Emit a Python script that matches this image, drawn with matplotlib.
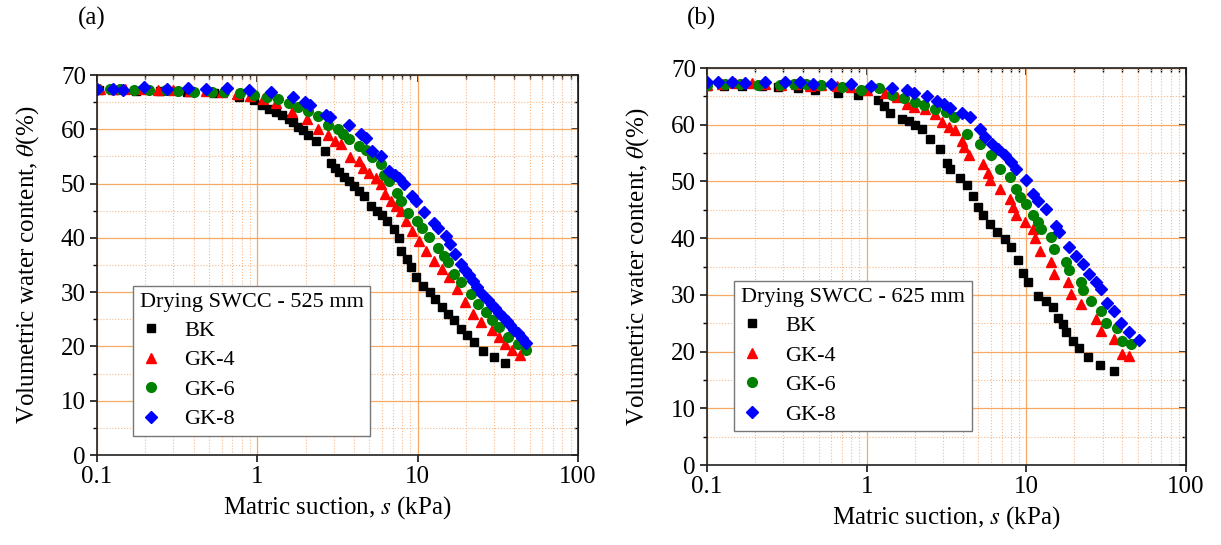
import numpy as np
import matplotlib
matplotlib.use('Agg')
import matplotlib.pyplot as plt
from matplotlib import ticker

plt.rcParams['font.family'] = ['Liberation Serif', 'DejaVu Serif']
plt.rcParams['mathtext.fontset'] = 'stix'

# ---- panel (a): 525 mm ----
s_bk_a = [0.103, 0.129, 0.175, 0.247, 0.365, 0.537, 0.77, 0.95, 1.07, 1.18, 1.30, 1.43, 1.57, 1.68, 1.80, 1.94,
          2.08, 2.31, 2.66, 2.89, 3.06, 3.25, 3.49, 3.75, 4.02, 4.32, 4.63, 5.14, 5.60, 6.00, 6.47, 7.10, 7.62,
          7.91, 8.63, 9.12, 9.73, 10.8, 12.0, 12.8, 14.1, 15.5, 16.8, 18.7, 20.3, 22.6, 25.6, 30.0, 35.3]
th_bk_a = [67.3, 67.3, 67.1, 67.1, 66.8, 66.6, 66.0, 65.4, 64.4, 63.8, 63.2, 62.6, 61.9, 61.3, 60.4, 59.8,
           58.9, 57.9, 56.0, 53.8, 52.9, 52.2, 51.3, 50.4, 49.5, 48.6, 47.8, 45.9, 45.0, 44.3, 43.1, 41.6, 40.0,
           37.6, 36.1, 34.6, 32.7, 31.2, 30.0, 28.8, 27.3, 26.0, 24.8, 23.3, 22.1, 20.9, 19.2, 18.0, 16.9]

s_gk4_a = [0.105, 0.125, 0.15, 0.19, 0.24, 0.30, 0.38, 0.48, 0.60, 0.75, 0.90, 1.08, 1.30, 1.64, 2.03, 2.39,
           2.76, 3.03, 3.33, 3.80, 4.32, 4.53, 4.97, 5.47, 5.92, 6.3, 6.8, 7.3, 7.85, 8.5, 9.2, 10.2, 11.3, 12.7,
           14.1, 15.6, 17.5, 19.8, 22.2, 25.0, 28.9, 32.1, 35.0, 39.0, 43.5]
th_gk4_a = [67.5, 67.5, 67.4, 67.4, 67.3, 67.2, 67.1, 67.0, 66.8, 66.5, 66.2, 65.6, 64.8, 63.1, 61.9, 60.1,
            58.9, 57.8, 57.2, 54.9, 54.1, 52.8, 51.9, 51.0, 50.0, 48.0, 46.8, 45.8, 45.0, 43.1, 41.3, 39.4, 37.6,
            35.8, 34.3, 32.7, 30.5, 28.1, 26.0, 24.5, 23.0, 21.8, 20.5, 19.3, 18.4]

s_gk6_a = [0.10, 0.12, 0.14, 0.17, 0.21, 0.27, 0.32, 0.40, 0.52, 0.62, 0.78, 0.95, 1.15, 1.35, 1.58, 1.80,
           2.08, 2.39, 2.76, 3.18, 3.41, 3.75, 4.32, 4.75, 5.21, 5.87, 6.15, 6.6, 7.4, 7.9, 8.7, 9.95, 10.6, 11.8,
           13.4, 14.6, 15.5, 16.8, 18.7, 21.4, 23.9, 26.6, 28.9, 32.1, 36.6, 42.0, 47.4]
th_gk6_a = [67.5, 67.5, 67.4, 67.3, 67.3, 67.2, 67.0, 66.9, 66.9, 66.8, 66.6, 66.3, 65.9, 65.6, 64.9, 64.1,
            63.4, 62.5, 60.8, 60.1, 59.2, 58.2, 56.9, 56.1, 54.9, 53.6, 51.6, 50.4, 48.3, 46.8, 44.6, 43.1, 41.9,
            40.1, 38.2, 36.7, 35.5, 33.4, 31.9, 29.7, 27.9, 26.4, 24.8, 23.6, 21.8, 20.5, 19.3]

s_gk8_a = [0.10, 0.125, 0.145, 0.195, 0.275, 0.37, 0.48, 0.65, 0.89, 1.21, 1.68, 1.98, 2.13, 2.69, 2.82, 3.75,
           4.42, 4.75, 5.21, 5.87, 6.6, 7.2, 7.6, 8.25, 9.2, 9.8, 10.9, 12.6, 13.3, 15.0, 15.8, 17.2, 18.7, 19.8,
           20.8, 22.0, 23.3, 25.2, 27.3, 29.0, 30.4, 32.0, 34.0, 36.0, 37.8, 40.0, 42.1, 44.5, 47.2]
th_gk8_a = [67.5, 67.5, 67.2, 67.7, 67.4, 67.6, 67.4, 67.6, 67.2, 66.9, 65.9, 65.1, 64.5, 62.6, 62.2, 60.8,
            59.2, 58.4, 56.0, 55.1, 52.3, 51.5, 51.0, 50.0, 47.8, 46.8, 44.7, 42.7, 41.9, 40.4, 38.9, 37.1, 35.2,
            34.0, 33.1, 32.0, 31.0, 29.7, 28.5, 27.6, 27.0, 26.2, 25.5, 24.6, 23.9, 23.1, 22.4, 21.5, 20.6]

# ---- panel (b): 625 mm ----
s_bk_b = [0.10, 0.127, 0.165, 0.220, 0.279, 0.372, 0.472, 0.659, 0.877, 1.17, 1.28, 1.41, 1.67, 1.84, 2.02,
          2.22, 2.51, 2.89, 3.18, 3.31, 3.85, 4.23, 4.66, 5.00, 5.38, 5.92, 6.51, 7.33, 8.07, 8.87, 9.53, 10.2,
          11.8, 13.3, 14.6, 15.7, 16.9, 17.6, 19.5, 21.5, 24.2, 28.8, 35.6]
th_bk_b = [66.8, 66.8, 66.9, 66.8, 66.7, 66.4, 66.1, 65.6, 65.3, 64.3, 63.3, 62.0, 61.0, 60.6, 59.9,
           59.2, 57.5, 55.8, 53.3, 52.2, 50.6, 49.3, 47.5, 45.5, 44.1, 42.5, 41.1, 39.9, 38.4, 36.2, 33.9, 32.2,
           29.8, 29.0, 27.8, 26.0, 24.9, 23.4, 21.8, 20.6, 19.0, 17.6, 16.5]

s_gk4_b = [0.10, 0.125, 0.15, 0.19, 0.23, 0.29, 0.36, 0.44, 0.52, 0.65, 0.80, 1.0, 1.3, 1.55, 1.80, 1.97,
           2.33, 2.69, 2.96, 3.26, 3.58, 3.94, 4.08, 4.40, 5.32, 5.78, 5.92, 6.83, 7.88, 8.26, 8.67, 9.77, 11.0,
           11.3, 12.1, 14.3, 15.0, 18.2, 19.0, 22.0, 27.2, 29.3, 35.4, 39.5, 43.8]
th_gk4_b = [67.0, 67.2, 67.3, 67.3, 67.2, 67.0, 67.1, 66.9, 67.0, 66.8, 66.6, 66.2, 65.6, 64.8, 63.7, 63.1,
            62.8, 61.9, 60.5, 59.6, 59.0, 57.2, 56.0, 54.7, 53.1, 51.4, 50.2, 48.7, 46.9, 45.5, 44.0, 42.8, 41.6,
            40.0, 37.8, 35.8, 33.7, 32.2, 30.2, 28.4, 25.8, 23.7, 22.2, 19.5, 19.2]

s_gk6_b = [0.10, 0.13, 0.161, 0.209, 0.286, 0.35, 0.419, 0.52, 0.70, 0.92, 1.20, 1.45, 1.71, 2.02, 2.28, 2.69,
           3.13, 3.50, 4.24, 5.13, 6.05, 6.82, 7.87, 8.66, 9.08, 10.0, 11.0, 11.8, 12.4, 14.3, 15.0, 17.7, 18.6,
           22.0, 22.5, 25.3, 29.3, 31.4, 37.1, 39.9, 45.0]
th_gk6_b = [67.0, 67.1, 67.1, 67.0, 67.0, 67.1, 67.1, 67.0, 66.7, 66.1, 66.4, 65.2, 64.7, 64.0, 63.5, 62.8,
            62.3, 61.3, 58.4, 56.6, 54.6, 52.2, 50.8, 48.7, 47.2, 46.1, 44.0, 42.8, 41.6, 40.2, 38.1, 35.8, 34.3,
            32.2, 30.8, 29.0, 27.2, 25.1, 24.2, 21.9, 21.4]

s_gk8_b = [0.10, 0.118, 0.143, 0.173, 0.231, 0.307, 0.380, 0.460, 0.598, 0.80, 1.06, 1.45, 1.80, 1.97, 2.39,
           2.76, 3.03, 3.33, 3.94, 4.44, 5.13, 5.51, 6.06, 6.66, 7.33, 8.07, 8.67, 10.0, 11.0, 11.8, 13.3, 15.4,
           16.0, 18.6, 20.5, 22.5, 24.8, 27.2, 29.3, 32.2, 35.4, 39.0, 43.9, 50.7]
th_gk8_b = [67.6, 67.5, 67.5, 67.4, 67.5, 67.6, 67.5, 67.2, 67.2, 67.1, 66.8, 66.5, 66.1, 65.6, 65.0,
            64.2, 63.7, 62.9, 62.1, 61.4, 59.3, 57.9, 56.6, 55.8, 54.6, 53.4, 52.2, 50.2, 47.8, 46.6, 45.2, 42.2,
            41.0, 38.4, 36.9, 35.4, 33.6, 32.2, 31.0, 28.6, 27.2, 25.1, 23.4, 22.0]

labels = ['BK', 'GK-4', 'GK-6', 'GK-8']
colors = ['black', 'red', 'green', 'blue']
markers = ['s', '^', 'o', 'D']
msizes = [6.2, 7.2, 7.0, 6.5]

W, H = 1221, 545
fig = plt.figure(figsize=(W / 100., H / 100.), dpi=100)

# axes boxes in pixels: left, top, right, bottom
boxes = [(97, 75, 578, 455), (707, 68, 1186, 465)]
panels = [
    [(s_bk_a, th_bk_a), (s_gk4_a, th_gk4_a), (s_gk6_a, th_gk6_a), (s_gk8_a, th_gk8_a)],
    [(s_bk_b, th_bk_b), (s_gk4_b, th_gk4_b), (s_gk6_b, th_gk6_b), (s_gk8_b, th_gk8_b)],
]
titles = ['Drying SWCC - 525 mm', 'Drying SWCC - 625 mm']
legpos = [(0.075, 0.05), (0.057, 0.085)]
tags = ['(a)', '(b)']

for i, (l, t, r, b) in enumerate(boxes):
    ax = fig.add_axes([l / W, 1 - b / H, (r - l) / W, (b - t) / H])
    for j, (s, th) in enumerate(panels[i]):
        ax.plot(s, th, ls='none', marker=markers[j], ms=msizes[j], color=colors[j],
                mec=colors[j], label=labels[j], zorder=3 + j)

    ax.set_xscale('log')
    ax.set_xlim(0.1, 100)
    ax.set_ylim(0, 70)
    ax.set_yticks(np.arange(0, 71, 10))
    ax.yaxis.set_minor_locator(ticker.MultipleLocator(5))
    ax.xaxis.set_major_formatter(ticker.FuncFormatter(lambda v, p: '%g' % v))
    ax.xaxis.set_minor_formatter(ticker.NullFormatter())

    ax.grid(which='major', color='#f6a865', lw=0.9, zorder=0)
    ax.grid(which='minor', color='#f7b98a', lw=0.8, ls=':', zorder=0)
    ax.set_axisbelow(True)

    for sp in ax.spines.values():
        sp.set_linewidth(1.2)
        sp.set_color('#222222')

    ax.tick_params(which='major', direction='out', length=5, width=1.1, labelsize=18, pad=3)
    ax.tick_params(axis='y', which='minor', direction='out', length=3, width=1)
    ax.tick_params(axis='x', which='minor', length=0)

    # inward ticks on top and right
    secx = ax.secondary_xaxis('top')
    secx.tick_params(which='major', direction='in', length=5, width=1.1, labeltop=False)
    secx.tick_params(which='minor', direction='in', length=3, width=1)
    secy = ax.secondary_yaxis('right')
    secy.set_yticks(np.arange(0, 71, 10))
    secy.yaxis.set_minor_locator(ticker.MultipleLocator(5))
    secy.tick_params(which='major', direction='in', length=5, width=1.1, labelright=False)
    secy.tick_params(which='minor', direction='in', length=3, width=1)

    ax.set_xlabel('Matric suction, $s$ (kPa)', fontsize=18, labelpad=4)
    ax.set_ylabel(r'Volumetric water content, $\theta$(%)', fontsize=18, labelpad=14)

    leg = ax.legend(title=titles[i], loc='lower left', bbox_to_anchor=legpos[i], fontsize=16,
                    title_fontsize=16, alignment='left', fancybox=False, framealpha=1,
                    edgecolor='#777777', handlelength=1.0, handletextpad=1.0, borderpad=0.3,
                    labelspacing=0.4, borderaxespad=0)
    leg.get_frame().set_linewidth(1.0)
    leg.set_zorder(10)

    fig.text((l - 5) / W, 1 - 18 / H, tags[i], fontsize=18, ha='center', va='center')

fig.savefig('out.png', dpi=100)
